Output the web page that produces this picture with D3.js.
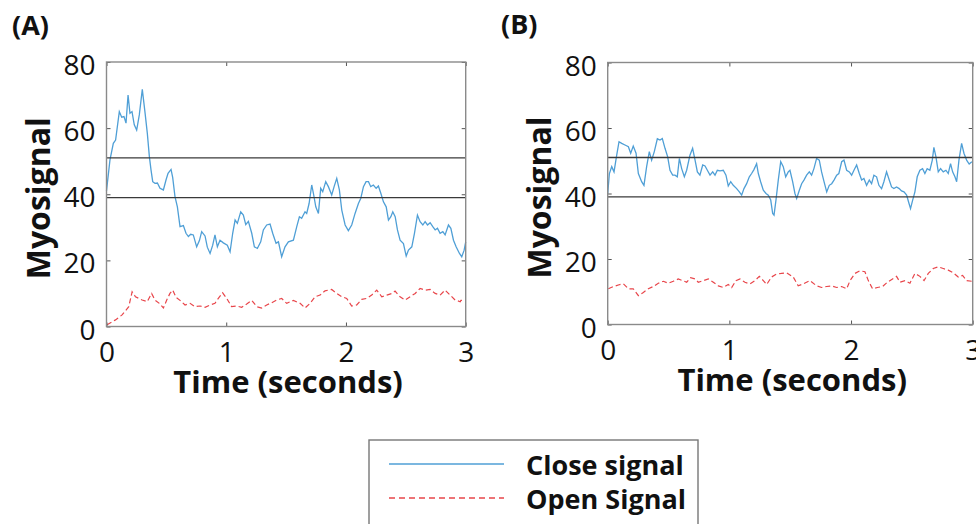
<!DOCTYPE html>
<html><head><meta charset="utf-8">
<script src="https://cdn.jsdelivr.net/npm/d3@7"></script>
<style>body{margin:0;background:#fff}svg{display:block}</style>
</head><body>
<svg id="c" width="976" height="524"></svg>
<script>
const xTicks = [0, 1, 2, 3];
const yTicks = [0, 20, 40, 60, 80];
const thresholds = [51, 39];
const panelLabels = ["(A)", "(B)"];
const legendLabels = ["Close signal", "Open Signal"];

const closeA = [[0,41],[0.029,50.4],[0.057,55.4],[0.076,56.4],[0.107,65],[0.127,63.3],[0.146,63.5],[0.163,61.5],[0.18,70],[0.196,64.5],[0.213,65],[0.232,61],[0.252,59.4],[0.274,64],[0.299,71.7],[0.322,64.6],[0.341,58.4],[0.358,51.4],[0.372,47.3],[0.386,43.8],[0.405,43.3],[0.425,43.4],[0.447,41.8],[0.475,41.3],[0.497,44.3],[0.514,46.3],[0.539,47.5],[0.553,45],[0.572,39.3],[0.592,36.2],[0.614,30.2],[0.642,30.5],[0.664,28.2],[0.684,27.2],[0.703,27.9],[0.725,27.7],[0.753,24.1],[0.776,26],[0.795,28.7],[0.823,27.4],[0.842,24],[0.865,22.1],[0.887,24.6],[0.906,27.7],[0.926,24.1],[0.948,26.1],[0.976,25.3],[1.009,24.6],[1.032,22.6],[1.054,28.2],[1.074,32.2],[1.093,31.2],[1.121,34.7],[1.143,33.7],[1.163,30.8],[1.185,31.8],[1.213,28.2],[1.235,24.1],[1.26,23.6],[1.288,25.6],[1.31,29.2],[1.338,30.7],[1.366,31],[1.388,28.2],[1.416,25.2],[1.436,25.6],[1.463,21.1],[1.491,24.1],[1.519,25.6],[1.561,26.1],[1.589,30.2],[1.611,33.2],[1.63,32.7],[1.658,34.7],[1.672,34.2],[1.692,37.2],[1.714,42.8],[1.728,40.3],[1.748,36.2],[1.77,34.2],[1.789,41.8],[1.806,40.8],[1.831,43.8],[1.853,42.3],[1.881,39.8],[1.901,42.3],[1.923,44.8],[1.945,41.3],[1.965,35.2],[1.993,30.7],[2.02,29],[2.048,30.7],[2.076,34.2],[2.104,37.2],[2.124,38.8],[2.146,42.3],[2.168,43.8],[2.188,43.8],[2.207,42.3],[2.229,42.8],[2.252,41.8],[2.271,42.5],[2.291,40.3],[2.313,37.7],[2.336,36.2],[2.355,32.2],[2.375,33.2],[2.391,34.7],[2.411,33.2],[2.43,29.2],[2.452,26.1],[2.48,25.1],[2.503,21.3],[2.522,23.1],[2.55,24.1],[2.572,28.2],[2.597,33.7],[2.619,31.7],[2.642,30.7],[2.661,31.7],[2.681,30.7],[2.703,31.4],[2.725,30.2],[2.745,29.2],[2.764,29.7],[2.786,28.2],[2.809,28.7],[2.828,27.7],[2.856,30.7],[2.876,29.7],[2.898,26.1],[2.92,24.1],[2.948,22.1],[2.967,21.1],[2.987,23.1],[3.0,25.6]];

const openA = [[0.005,0.5],[0.075,2],[0.13,3.5],[0.186,6],[0.214,10.5],[0.242,9],[0.27,8.5],[0.298,8],[0.34,7.5],[0.377,10],[0.405,8],[0.441,7],[0.475,5.6],[0.503,8],[0.53,10],[0.553,11],[0.581,8.8],[0.614,7.9],[0.656,6.5],[0.698,7],[0.739,6],[0.781,6.2],[0.823,5.8],[0.865,6.5],[0.906,7],[0.934,8.5],[0.97,10.2],[1.004,8.5],[1.045,6],[1.087,6.2],[1.129,5.8],[1.171,6.8],[1.213,7.9],[1.255,6],[1.296,5.6],[1.338,6.5],[1.38,7.2],[1.422,8],[1.463,8.5],[1.505,7],[1.561,7.9],[1.617,7],[1.658,5.6],[1.7,7],[1.742,9],[1.784,9.5],[1.825,10.8],[1.881,11.2],[1.923,10],[1.965,9],[2.006,8.5],[2.048,6.2],[2.09,6.5],[2.132,8.2],[2.174,8.5],[2.215,9.5],[2.257,11],[2.299,9],[2.341,9.5],[2.383,10],[2.41,10.7],[2.452,9],[2.494,8],[2.536,9],[2.578,10],[2.619,11.5],[2.661,11],[2.703,11.2],[2.745,10],[2.786,9.5],[2.828,11],[2.87,9.5],[2.912,8],[2.954,7.5],[2.96,7.9],[3.0,8]];

const closeB = [[0,40],[0.014,46.1],[0.033,48.2],[0.052,46.6],[0.074,51.7],[0.093,55.8],[0.115,55.3],[0.142,54.8],[0.17,54.3],[0.189,52.3],[0.21,54.5],[0.233,52.3],[0.252,46.1],[0.279,43.6],[0.298,42.5],[0.32,48.2],[0.342,52.8],[0.361,50.2],[0.383,52.8],[0.408,56.7],[0.43,56.3],[0.449,56.8],[0.471,53.8],[0.493,51.2],[0.512,47.1],[0.534,45.6],[0.553,45.6],[0.572,45.1],[0.589,50.7],[0.608,47.6],[0.63,45.1],[0.649,47.1],[0.676,51.7],[0.698,53.8],[0.718,50.2],[0.737,46.6],[0.758,45.6],[0.781,48.7],[0.8,48.4],[0.819,47.1],[0.841,45.6],[0.863,46.6],[0.882,45.6],[0.901,47.1],[0.923,46.9],[0.95,47.1],[0.972,45.6],[0.991,42.3],[1.011,43.6],[1.032,42.5],[1.06,41.5],[1.082,40.5],[1.101,39.5],[1.12,41.5],[1.142,43],[1.164,45.1],[1.183,46.1],[1.202,47.3],[1.224,49.1],[1.238,46.1],[1.257,43.6],[1.279,41],[1.301,40],[1.32,39.5],[1.34,38],[1.356,33.9],[1.367,33.4],[1.383,38],[1.402,44.1],[1.422,49.7],[1.443,48.2],[1.463,45.1],[1.484,46.6],[1.498,47.1],[1.52,43.6],[1.539,40],[1.553,38.5],[1.575,41],[1.594,43],[1.613,44.1],[1.635,45.6],[1.657,46.6],[1.676,45.6],[1.695,47.6],[1.717,50.7],[1.739,50.2],[1.758,46.6],[1.778,43.6],[1.8,40.5],[1.821,42.5],[1.841,43],[1.86,44.1],[1.882,45.6],[1.9,46.1],[1.923,49.7],[1.942,50.2],[1.964,47.1],[1.986,46.6],[2.005,45.6],[2.024,47.1],[2.046,48.7],[2.068,46.1],[2.087,44.1],[2.106,44.6],[2.128,42.5],[2.15,44.1],[2.169,43],[2.188,45.6],[2.21,45.1],[2.229,42.5],[2.251,41.5],[2.27,43.6],[2.292,46.6],[2.314,44.1],[2.333,42],[2.352,41.5],[2.374,42],[2.396,41.5],[2.415,40.8],[2.435,40.5],[2.457,39.5],[2.473,37.4],[2.489,35.4],[2.506,37.9],[2.525,40.5],[2.544,45.1],[2.566,47.1],[2.588,47.6],[2.607,46.1],[2.626,47.6],[2.648,47.1],[2.668,50.2],[2.681,54.1],[2.698,51.2],[2.717,46.6],[2.736,47.6],[2.758,46.6],[2.78,47.1],[2.799,46.1],[2.818,49.1],[2.835,46.6],[2.854,45.1],[2.868,43.6],[2.887,50.2],[2.909,55.3],[2.928,52.3],[2.95,50.2],[2.971,49],[2.993,49.7]];

const openB = [[0.005,10.9],[0.047,11.6],[0.1,12.2],[0.129,12.4],[0.17,10.9],[0.21,10.9],[0.252,8.8],[0.293,9.8],[0.334,10.9],[0.375,11.6],[0.416,12.6],[0.457,13.2],[0.498,12.6],[0.539,13.2],[0.58,13.9],[0.616,13.4],[0.649,12.9],[0.682,14.3],[0.718,13.9],[0.745,12.9],[0.786,13.4],[0.827,13.9],[0.868,12.9],[0.909,11.8],[0.95,11.3],[0.991,12.2],[1.019,11.3],[1.054,13.4],[1.087,13.9],[1.128,12.9],[1.169,12.4],[1.21,13.4],[1.246,14.7],[1.279,13.4],[1.306,12.2],[1.347,14.5],[1.388,15.4],[1.43,15.6],[1.471,15.8],[1.525,14.5],[1.566,11.8],[1.607,12.4],[1.662,13.4],[1.717,11.8],[1.758,11.3],[1.8,11.6],[1.841,11.8],[1.882,11.3],[1.923,11.6],[1.964,10.9],[1.992,13.4],[2.032,15.6],[2.073,16.4],[2.114,16.1],[2.142,13.4],[2.177,10.9],[2.216,11.3],[2.259,11.6],[2.298,12.9],[2.341,13.9],[2.374,14.7],[2.402,12.9],[2.443,13.4],[2.484,12.6],[2.525,15.6],[2.566,14.7],[2.6,13.4],[2.635,15.6],[2.676,17.1],[2.717,17.6],[2.758,17.1],[2.799,16.6],[2.84,15.8],[2.881,14.5],[2.917,15],[2.95,13.4],[2.993,13.2]];

const BLUE = "#4f9fd6", RED = "#e8454a";
const svg = d3.select("#c");
const FONT = "'Open Sans', sans-serif";

const panels = [
  {label: panelLabels[0], close: closeA, open: openA, x0: 106.5, x1: 465.7, y0: 62, y1: 326.5, lx: 12, ly: 35},
  {label: panelLabels[1], close: closeB, open: openB, x0: 607.7, x1: 972.7, y0: 62.5, y1: 324.5, lx: 501, ly: 34}
];

panels.forEach(p => {
  const x = d3.scaleLinear().domain([0, 3]).range([p.x0, p.x1]);
  const y = d3.scaleLinear().domain([0, 80]).range([p.y1, p.y0]);
  const g = svg.append("g");

  // data lines
  const line = d3.line().x(d => x(d[0])).y(d => y(d[1]));
  g.append("path").datum(p.open).attr("d", line).attr("fill", "none")
    .attr("stroke", RED).attr("stroke-width", 1.2).attr("stroke-dasharray", "5,3");
  g.append("path").datum(p.close).attr("d", line).attr("fill", "none")
    .attr("stroke", BLUE).attr("stroke-width", 1.3);

  // thresholds
  thresholds.forEach(t => {
    g.append("line").attr("x1", p.x0).attr("x2", p.x1).attr("y1", y(t)).attr("y2", y(t))
      .attr("stroke", "#3a3a3a").attr("stroke-width", 1.3);
  });

  // axes (inward ticks on all sides)
  const tickLen = 4;
  g.append("g").attr("transform", `translate(0,${p.y1})`)
    .call(d3.axisBottom(x).tickValues(xTicks).tickSize(-tickLen).tickFormat(d3.format("d")).tickPadding(16))
    .call(a => { a.select(".domain").remove(); a.selectAll("text").attr("font-size", 28).attr("font-family", FONT).attr("fill", "#111"); a.selectAll("line").attr("stroke", "#555"); });
  g.append("g").attr("transform", `translate(0,${p.y0})`)
    .call(d3.axisTop(x).tickValues(xTicks).tickSize(-tickLen).tickFormat(""))
    .call(a => { a.select(".domain").remove(); a.selectAll("line").attr("stroke", "#555"); });
  g.append("g").attr("transform", `translate(${p.x0},0)`)
    .call(d3.axisLeft(y).tickValues(yTicks).tickSize(-tickLen).tickPadding(11))
    .call(a => { a.select(".domain").remove(); a.selectAll("text").attr("font-size", 28).attr("font-family", FONT).attr("fill", "#111").attr("dy", "0.45em"); a.selectAll("line").attr("stroke", "#555"); });
  g.append("g").attr("transform", `translate(${p.x1},0)`)
    .call(d3.axisRight(y).tickValues(yTicks).tickSize(-tickLen).tickFormat(""))
    .call(a => { a.select(".domain").remove(); a.selectAll("line").attr("stroke", "#555"); });

  // box
  g.append("rect").attr("x", p.x0).attr("y", p.y0).attr("width", p.x1 - p.x0).attr("height", p.y1 - p.y0)
    .attr("fill", "none").attr("stroke", "#8a8a8a").attr("stroke-width", 1.4);

  // axis titles
  g.append("text").attr("x", (p.x0 + p.x1) / 2 + 2).attr("y", p.y1 + 66).attr("text-anchor", "middle")
    .attr("font-family", FONT).attr("font-weight", "bold").attr("font-size", 31).attr("fill", "#111")
    .text("Time (seconds)");
  g.append("text").attr("transform", `translate(${p.x0 - 57},${(p.y0 + p.y1) / 2 + 4}) rotate(-90)`)
    .attr("text-anchor", "middle").attr("font-family", FONT).attr("font-weight", "bold")
    .attr("font-size", 32).attr("fill", "#111").text("Myosignal");
  g.append("text").attr("x", p.lx).attr("y", p.ly).attr("font-family", FONT).attr("font-weight", "bold")
    .attr("font-size", 27).attr("fill", "#111").text(p.label);
});

// legend
const lg = svg.append("g");
lg.append("rect").attr("x", 369).attr("y", 440).attr("width", 329).attr("height", 100)
  .attr("fill", "#fff").attr("stroke", "#777").attr("stroke-width", 1.4);
const legendStyles = [{c: BLUE, dash: null, y: 464}, {c: RED, dash: "6,4", y: 498}];
legendStyles.forEach((s, i) => {
  lg.append("line").attr("x1", 389).attr("x2", 504).attr("y1", s.y).attr("y2", s.y)
    .attr("stroke", s.c).attr("stroke-width", 1.3).attr("stroke-dasharray", s.dash);
  lg.append("text").attr("x", 526).attr("y", s.y + 11).attr("font-family", FONT).attr("font-weight", "bold")
    .attr("font-size", 27).attr("fill", "#111").text(legendLabels[i]);
});
</script>
</body></html>
